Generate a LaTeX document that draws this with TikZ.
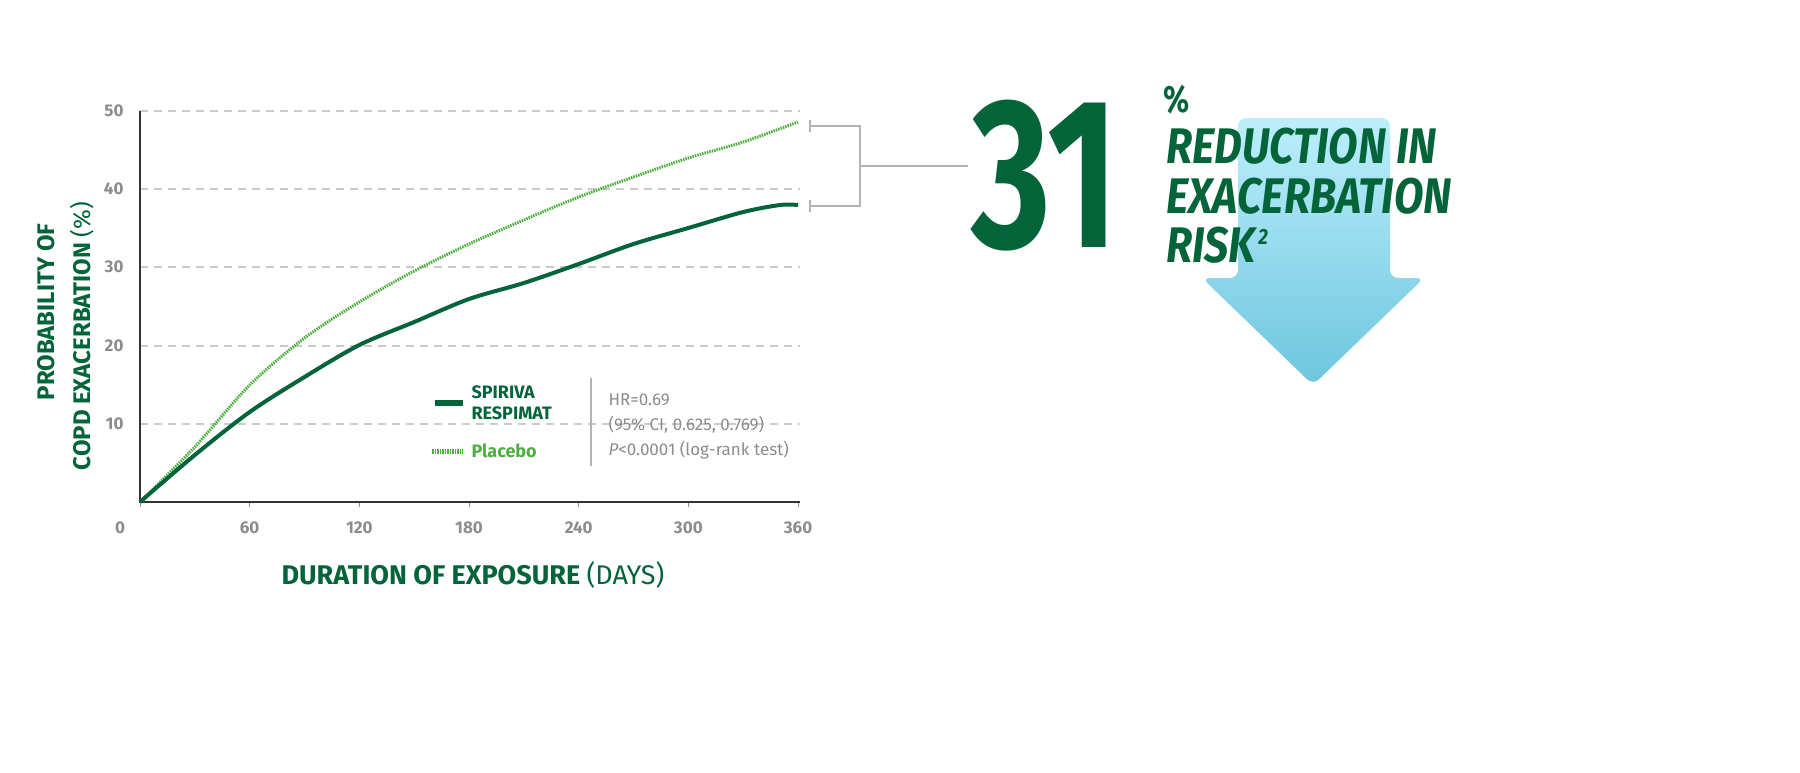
\documentclass[tikz,border=0pt]{standalone}
\usepackage{fontspec}
\setmainfont{Fira Sans}
\usetikzlibrary{shadings}
\definecolor{dg}{HTML}{03643A}
\definecolor{lg}{HTML}{4DAF3E}
\definecolor{gr}{HTML}{8C8C8C}
\definecolor{br}{HTML}{B3B3B3}
\definecolor{bt}{HTML}{BDEEFC}
\definecolor{bb}{HTML}{6CC6DE}
\begin{document}
\begin{tikzpicture}[x=0.5pt,y=-0.5pt,every node/.append style={scale=0.5},
 grid/.style={draw=br!70,dash pattern=on 4pt off 3pt,line width=0.6pt},
 tick/.style={font=\bfseries\fontsize{17}{17}\selectfont,text=gr},
 hr/.style={font=\fontsize{17}{17}\selectfont,text=gr,anchor=west},
 br/.style={draw=br,line width=1pt}]
\useasboundingbox (0,0) rectangle (1800,772);
% arrow
\shade[top color=bt,bottom color=bb,rounded corners=4pt] (1238,118) -- (1390,118) -- (1390,278) -- (1424,278) -- (1313,385) -- (1202,278) -- (1238,278) -- cycle;
% grid
\foreach \v/\y in {10/424,20/346,30/267,40/189,50/111}{
 \draw[grid] (140,\y) -- (800,\y);
 \node[tick,anchor=east] (yl\v) at (127,\y) {\v};}
\foreach \d in {0,60,120,180,240,300,360}{
 \node[tick] (xl\d) at ({140+1.8278*\d-(\d==0?20:0)},528) {\d};
 \draw[gr,line width=0.5pt] ({140+1.8278*\d},502) -- ({140+1.8278*\d},507);}
\draw[black!80,line width=0.75pt] (140,111) -- (140,502) -- (800,502);
% curves
\draw[lg,line width=1.5pt,dash pattern=on 0.75pt off 0.5pt] plot[smooth,tension=0.5] coordinates {
(140,502) (194.8,447) (249.7,385) (304.5,338) (359.3,302) (414.2,271) (469,244) (523.8,220) (578.7,197) (633.5,177) (688.3,158) (743.2,142) (798,122)};
\draw[dg,line width=2pt] plot[smooth,tension=0.5] coordinates {
(140,502) (194.8,455) (249.7,412) (304.5,377) (359.3,345) (414.2,322) (469,299) (523.8,283) (578.7,264) (633.5,244) (688.3,228) (743.2,212) (780,205) (798,205)};
% bracket
\draw[br] (810,120) -- (810,132); \draw[br] (810,126) -- (860,126) -- (860,206) -- (810,206);
\draw[br] (810,200) -- (810,212);
\coordinate (bm) at (860,166);
\node (big) at (1045,176) {\color{dg}\scalebox{0.68}[0.95]{\fontsize{225}{225}\selectfont\bfseries 31}};
\draw[br] (bm) -- (968,166);
\node[anchor=west,inner sep=0] (pct) at (1163,100) {\color{dg}\scalebox{0.8}[1]{\fontsize{38}{38}\selectfont\bfseries\%}};
\node[anchor=north west,inner sep=0,align=left] (red) at (1166,128) {\color{dg}\scalebox{0.86}[1]{\fontsize{50}{47}\selectfont\bfseries\itshape\begin{tabular}{@{}l@{}}REDUCTION IN\\EXACERBATION\\RISK\kern3pt\raisebox{18pt}{\fontsize{22}{22}\selectfont 2}\end{tabular}}};
% axis titles
\node[rotate=90,text=dg,font=\bfseries\fontsize{24}{24}\selectfont] (yt1) at (46,312) {PROBABILITY OF};
\node[rotate=90,text=dg,font=\bfseries\fontsize{24}{24}\selectfont] (yt2) at (82,336) {COPD EXACERBATION \mdseries(\%)};
\node[text=dg,font=\bfseries\fontsize{27}{27}\selectfont] (xt) at (473,575) {DURATION OF EXPOSURE \mdseries(DAYS)};
% legend
\coordinate (s1) at (435,403); \coordinate (s2) at (463,403);
\draw[dg,line width=3pt] (s1) -- (s2);
\coordinate (p1) at (432,451); \coordinate (p2) at (463,451);
\draw[lg,line width=2.5pt,dash pattern=on 0.75pt off 0.5pt] (p1) -- (p2);
\node[anchor=west,text=dg,font=\bfseries\fontsize{18}{21}\selectfont,align=left] (sp) at (468,403) {SPIRIVA\\RESPIMAT};
\node[anchor=west,text=lg,font=\bfseries\fontsize{18}{18}\selectfont] (pl) at (468,451) {Placebo};
\coordinate (v1) at (591,378); \coordinate (v2) at (591,466);
\draw[br,line width=0.75pt] (v1) -- (v2);
\node[hr] (h1) at (605,400) {HR=0.69};
\node[hr] (h2) at (605,425) {(95\% CI, 0.625, 0.769)};
\node[hr] (h3) at (605,450) {\textit{P}<0.0001 (log-rank test)};
\end{tikzpicture}
\end{document}
